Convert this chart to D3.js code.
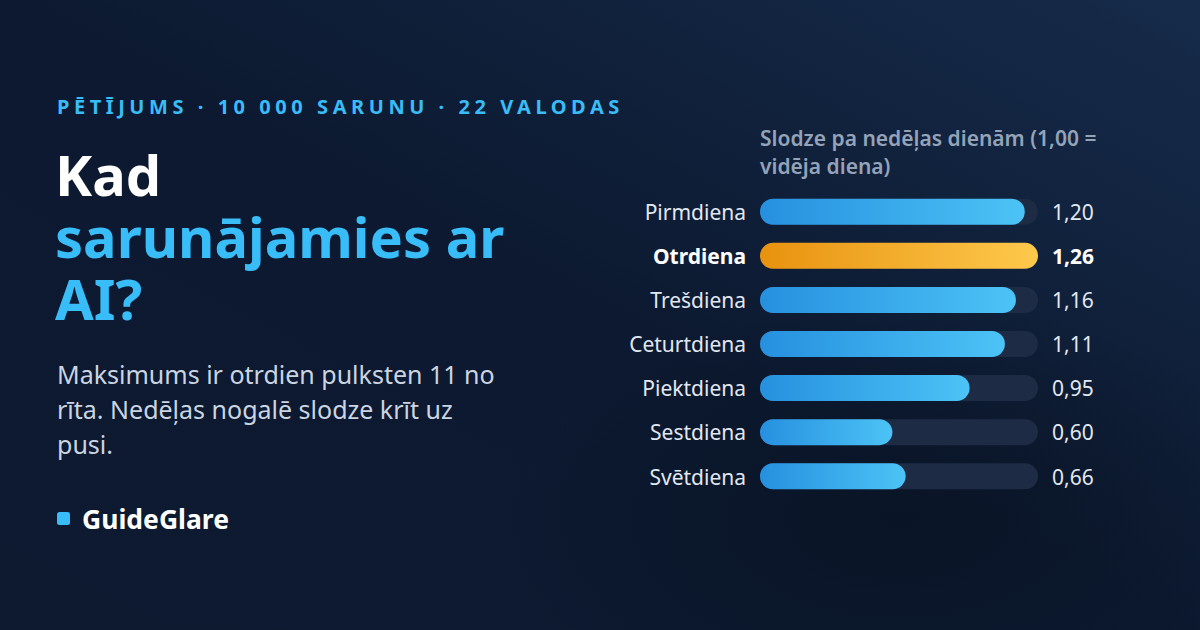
<!DOCTYPE html>
<html><head><meta charset="utf-8">
<script src="https://cdn.jsdelivr.net/npm/d3@7"></script>
<style>
html,body{margin:0;padding:0;background:#0b1628;}
svg{display:block;font-family:"Noto Sans",sans-serif;}
</style></head>
<body>
<svg id="c" width="1200" height="630"></svg>
<script>
const days = ["Pirmdiena","Otrdiena","Trešdiena","Ceturtdiena","Piektdiena","Sestdiena","Svētdiena"];
const values = [1.20,1.26,1.16,1.11,0.95,0.60,0.66];
const valueLabels = ["1,20","1,26","1,16","1,11","0,95","0,60","0,66"];
const highlightDay = "Otrdiena";
const kicker = "PĒTĪJUMS · 10 000 SARUNU · 22 VALODAS";
const titleLines = [["Kad","#ffffff"],["sarunājamies ar","#38bdf8"],["AI?","#38bdf8"]];
const subtitleLines = ["Maksimums ir otrdien pulksten 11 no","rīta. Nedēļas nogalē slodze krīt uz","pusi."];
const chartTitleLines = ["Slodze pa nedēļas dienām (1,00 =","vidēja diena)"];
const brand = "GuideGlare";

const svg = d3.select("#c");
const defs = svg.append("defs");
const bg = defs.append("linearGradient").attr("id","bg").attr("x1","0").attr("y1","1").attr("x2","1").attr("y2","0");
bg.append("stop").attr("offset","0").attr("stop-color","#0d1a30");
bg.append("stop").attr("offset","0.5").attr("stop-color","#0c1930");
bg.append("stop").attr("offset","1").attr("stop-color","#162b4a");
const gb = defs.append("linearGradient").attr("id","gblue");
gb.append("stop").attr("offset","0").attr("stop-color","#2690df");
gb.append("stop").attr("offset","1").attr("stop-color","#4cc3f6");
const go = defs.append("linearGradient").attr("id","gorange");
go.append("stop").attr("offset","0").attr("stop-color","#e8920f");
go.append("stop").attr("offset","1").attr("stop-color","#fec94c");
const rg = defs.append("radialGradient").attr("id","glow").attr("cx","0.5").attr("cy","0.5").attr("r","0.5");
rg.append("stop").attr("offset","0").attr("stop-color","#08111f").attr("stop-opacity","0.6");
rg.append("stop").attr("offset","1").attr("stop-color","#08111f").attr("stop-opacity","0");

svg.append("rect").attr("width",1200).attr("height",630).attr("fill","url(#bg)");
svg.append("ellipse").attr("cx",900).attr("cy",520).attr("rx",400).attr("ry",220).attr("fill","url(#glow)");

// Left text
svg.append("text").attr("x",57).attr("y",114).attr("fill","#38bdf8")
  .attr("font-size",20).attr("font-weight",700).attr("letter-spacing",4.55).text(kicker);

const t = svg.append("text").attr("font-size",56).attr("font-weight",700);
titleLines.forEach((l,i)=>{
  t.append("tspan").attr("x",55).attr("y",196+i*62).attr("fill",l[1]).text(l[0]);
});

const s = svg.append("text").attr("font-size",25).attr("fill","#cbd5e1");
subtitleLines.forEach((l,i)=>{
  s.append("tspan").attr("x",57).attr("y",384+i*35).text(l);
});

svg.append("rect").attr("x",57).attr("y",512).attr("width",13).attr("height",13).attr("rx",2.5).attr("fill","#38bdf8");
svg.append("text").attr("x",82).attr("y",529).attr("fill","#ffffff").attr("font-size",26.5).attr("font-weight",700).text(brand);

// Chart
const ct = svg.append("text").attr("font-size",21).attr("font-weight",600).attr("fill","#94a3b8");
chartTitleLines.forEach((l,i)=>{
  ct.append("tspan").attr("x",760).attr("y",146+i*28).text(l);
});

const x = d3.scaleLinear().domain([0, d3.max(values)]).range([760, 1038]);
const y = d3.scaleBand().domain(days).range([190, 498]).paddingInner(0.41).paddingOuter(0.2);
const bh = 26;

const rows = svg.append("g").selectAll("g").data(days).join("g")
  .attr("transform", d => `translate(0,${y(d)+y.bandwidth()/2})`);

rows.append("rect").attr("x",x(0)).attr("y",-bh/2).attr("height",bh)
  .attr("width",x.range()[1]-x(0)).attr("rx",bh/2).attr("fill","#1e2b45");
rows.append("rect").attr("x",x(0)).attr("y",-bh/2).attr("height",bh)
  .attr("width",(d,i)=>x(values[i])-x(0)).attr("rx",bh/2)
  .attr("fill",d=>d===highlightDay?"url(#gorange)":"url(#gblue)");
rows.append("text").attr("x",746).attr("y",1).attr("dy","0.35em").attr("text-anchor","end")
  .attr("font-size",21).attr("fill",d=>d===highlightDay?"#ffffff":"#e2e8f0")
  .attr("font-weight",d=>d===highlightDay?700:400).text(d=>d);
rows.append("text").attr("x",1052).attr("y",1).attr("dy","0.35em")
  .attr("font-size",21).attr("fill",d=>d===highlightDay?"#ffffff":"#e2e8f0")
  .attr("font-weight",d=>d===highlightDay?700:400).text((d,i)=>valueLabels[i]);
</script>
</body></html>
